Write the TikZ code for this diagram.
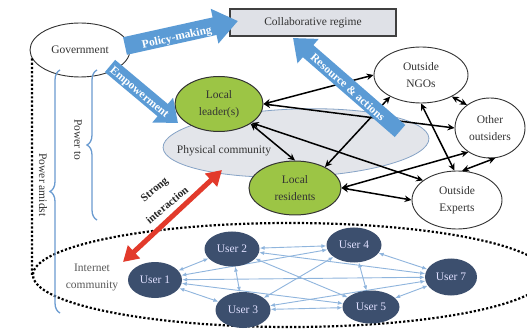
\documentclass[tikz,border=0pt]{standalone}
\usepackage{fontspec}
\setmainfont{Liberation Serif}
\usetikzlibrary{shapes.geometric,arrows.meta,decorations.pathreplacing,calc}
\definecolor{fatblue}{HTML}{5B9BD5}
\definecolor{leafgreen}{HTML}{9CC545}
\definecolor{usernavy}{HTML}{3C4F6E}
\definecolor{ulink}{HTML}{8FB5DD}
\definecolor{physgray}{HTML}{E3E5EA}
\definecolor{physedge}{HTML}{86A3C6}
\definecolor{redarr}{HTML}{E23A2B}
\definecolor{bracecol}{HTML}{6A9BD0}
\definecolor{collabgray}{HTML}{DFE1E7}
\pgfdeclarelayer{background}
\pgfdeclarelayer{links}
\pgfsetlayers{background,links,main}
\begin{document}
\begin{tikzpicture}[x=1pt,y=1pt,
  every node/.style={font=\fontsize{11.5}{17}\selectfont, text=black!80, inner sep=0pt},
  oval/.style={ellipse, draw=black!80, line width=0.9pt, fill=white, align=center},
  greenoval/.style={ellipse, draw=black!80, line width=1pt, fill=leafgreen, align=center},
  usernode/.style={ellipse, fill=usernavy, text=white!88!blue},
  blk/.style={line width=1.5pt, {Stealth[length=7pt,width=6.5pt]}-{Stealth[length=7pt,width=6.5pt]}},
  ulk/.style={ulink, line width=0.9pt, {Latex[length=5pt,width=4pt]}-{Latex[length=5pt,width=4pt]}},
  bigdots/.style={line width=2.2pt, dash pattern=on 2.2pt off 2pt},
  arrowtext/.style={text=white, font=\fontsize{11.5}{13}\selectfont\bfseries},
  boldlabel/.style={text=black!85, font=\fontsize{11}{13}\selectfont\bfseries},
  bracestyle/.style={bracecol, line width=1.3pt, decorate, decoration={brace, amplitude=10pt}},
  fatarrowA/.style={fatblue, line width=18pt, -{Triangle[length=24pt,width=34pt]}},
  fatarrowB/.style={fatblue, line width=16pt, -{Triangle[length=20pt,width=31pt]}}
]
\begin{pgfonlayer}{background}
\fill[white] (0,0) rectangle (527,332);
\end{pgfonlayer}
\useasboundingbox (0,0) rectangle (527,332);
\clip (0,0) rectangle (527,332);

% physical community
\node[ellipse, draw=physedge, line width=0.8pt, fill=physgray, minimum width=266pt, minimum height=68pt, rotate=2] (phys) at (296,189) {};
\node (phystxt) at (224,181) {Physical community};

% main nodes
\node[oval, minimum width=100pt, minimum height=54pt] (gov) at (80,282) {Government};
\node[draw=black!75, line width=1.1pt, fill=collabgray, minimum width=166pt, minimum height=27pt] (collab) at (313,309.5) {Collaborative regime};
\node[greenoval, minimum width=88pt, minimum height=55pt] (leader) at (219,228) {Local\\leader(s)};
\node[greenoval, minimum width=92pt, minimum height=54pt] (res) at (295,144) {Local\\residents};
\node[oval, minimum width=94pt, minimum height=56pt] (ngo) at (421,257) {Outside\\NGOs};
\node[oval, minimum width=70pt, minimum height=60pt] (oth) at (490,204) {Other\\outsiders};
\node[oval, minimum width=90pt, minimum height=58pt] (exp) at (457,132) {Outside\\Experts};

% internet community
\node[ellipse, draw=black, bigdots, minimum width=514pt, minimum height=104pt] (inet) at (290,57) {};
\node[text=black!65, align=center] (inettxt) at (92,55) {Internet\\community};
\node[usernode, minimum width=54pt, minimum height=36pt] (u1) at (155,52) {User 1};
\node[usernode, minimum width=55pt, minimum height=35pt] (u2) at (232,83) {User 2};
\node[usernode, minimum width=55pt, minimum height=36pt] (u3) at (243,22) {User 3};
\node[usernode, minimum width=55pt, minimum height=35pt] (u4) at (354,87) {User 4};
\node[usernode, minimum width=57pt, minimum height=33pt] (u5) at (371,25) {User 5};
\node[usernode, minimum width=52pt, minimum height=37pt] (u7) at (451,55) {User 7};

\begin{pgfonlayer}{links}
\foreach \a/\b in {u1/u2,u1/u3,u1/u4,u1/u5,u1/u7,u2/u3,u2/u4,u2/u5,u2/u7,u3/u4,u3/u5,u3/u7,u4/u5,u4/u7,u5/u7}
  \draw[ulk] (\a) -- (\b);
\end{pgfonlayer}

% black connectors
\draw[blk] (leader.east) -- (ngo.west);
\draw[blk] (leader.east) -- (oth.west);
\draw[blk] (leader.-32) -- (res.north);
\draw[blk] (leader.-30) -- (exp.150);
\draw[blk] (res.35) -- (ngo.215);
\draw[blk] (res.east) -- (oth.228);
\draw[blk] (res.east) -- (exp.west);
\draw[blk] (ngo.-35) -- (oth.135);
\draw[blk] (ngo.south) -- (exp.95);
\draw[blk] (exp.80) -- (oth.-80);

% fat blue arrows
\coordinate (polA) at (125,286);
\coordinate (polB) at (238,311);
\coordinate (empA) at (110,266);
\coordinate (empB) at (178,209);
\coordinate (resA) at (400,201);
\coordinate (resB) at (293,294);
\draw[fatarrowA] (polA) -- (polB);
\draw[fatarrowB] (empA) -- (empB);
\draw[fatarrowB] (resA) -- (resB);
\node[arrowtext, rotate=12.5] (poltxt) at (177,294) {Policy-making};
\node[arrowtext, rotate=-40] (emptxt) at (139,239) {Empowerment};
\node[arrowtext, rotate=-41.6] (restxt) at (348,245) {Resource \& actions};

% strong interaction
\coordinate (redA) at (222,162);
\coordinate (redB) at (123,70);
\draw[redarr, line width=5pt, {Triangle[length=15pt,width=17pt]}-{Triangle[length=15pt,width=17pt]}] (redA) -- (redB);
\node[boldlabel, rotate=40] (strongtxt) at (155,142) {Strong};
\node[boldlabel, rotate=40] (intertxt) at (167,127) {interaction};

% braces
\coordinate (bA1) at (97,112);
\coordinate (bA2) at (97,262);
\coordinate (bB1) at (60,19);
\coordinate (bB2) at (60,262);
\draw[bracestyle] (bA1) -- (bA2);
\draw[bracestyle] (bB1) -- (bB2);
\node[rotate=-90] (powerto) at (78,192) {Power to};
\node[rotate=-90] (poweramidst) at (43,147) {Power amidst};

% big dotted line
\draw[bigdots] (gov.190) -- (inet.west);
\end{tikzpicture}
\end{document}
